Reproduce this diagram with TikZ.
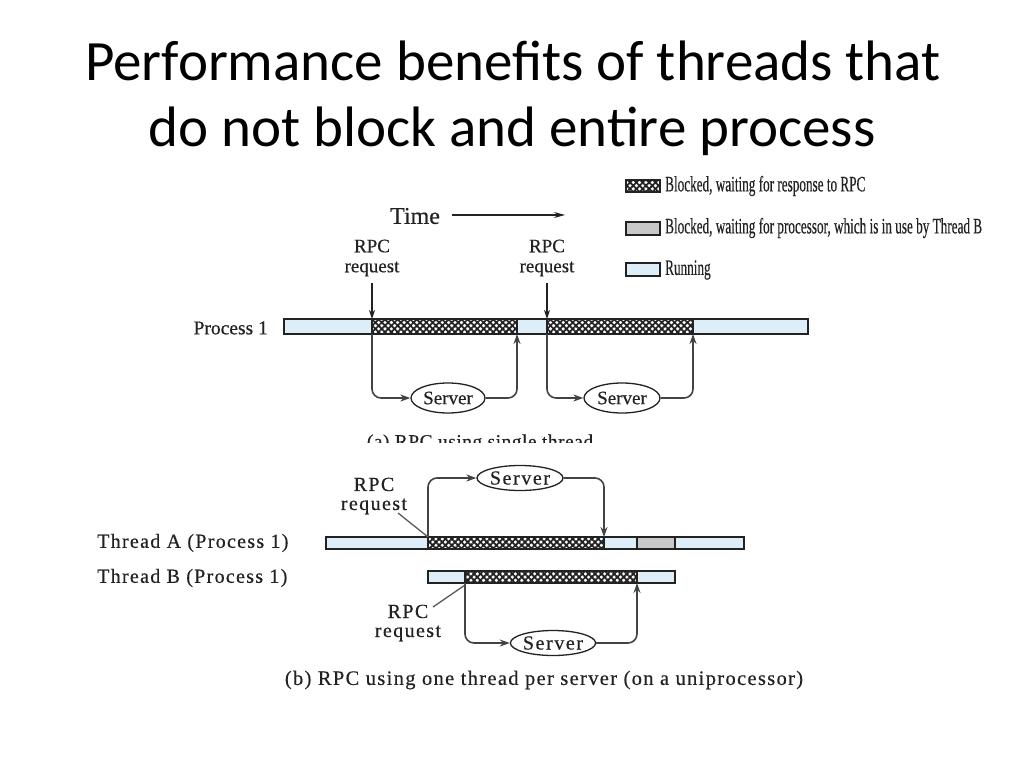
\documentclass[tikz,border=0pt]{standalone}
\usepackage{fontspec}
\setmainfont{Liberation Serif}
\newfontfamily\dfont[FakeBold=0.4]{Liberation Serif}
\newfontfamily\titlefont{Carlito}
\usetikzlibrary{patterns.meta,arrows.meta,shapes.geometric}
\definecolor{runblue}{HTML}{DDEEF8}
\definecolor{waitgray}{HTML}{C8C8C8}
\definecolor{ink}{HTML}{222222}
\tikzset{
  hatchfill/.style={pattern={Lines[angle=45,distance=4.5pt,line width=1.8pt]},pattern color=ink},
  hatchfill2/.style={pattern={Lines[angle=-45,distance=4.5pt,line width=1.8pt]},pattern color=ink},
  seg/.style={draw=ink,line width=1.5pt},
  conn/.style={draw=ink!85,line width=1.6pt,rounded corners=9pt,-{Stealth[length=10pt,width=7pt]}},
  srva/.style={ellipse,draw=ink,line width=1.3pt,fill=white,inner sep=0pt,text=ink,font=\dfont\fontsize{19}{19}\selectfont},
  srvb/.style={ellipse,draw=ink,line width=1.3pt,fill=white,inner sep=0pt,text=ink,font=\dfont\fontsize{20}{20}\selectfont\addfontfeature{LetterSpace=8}},
  lbl/.style={text=ink,font=\dfont\fontsize{19}{20}\selectfont,align=center},
  lblb/.style={text=ink,font=\dfont\fontsize{20}{19}\selectfont\addfontfeature{LetterSpace=7},align=center},
  leg/.style={text=ink,anchor=west,inner sep=0pt,font=\dfont\fontsize{22}{22}\selectfont},
  ptr/.style={draw=ink!75,line width=1.3pt},
  tlbl/.style={text=ink,font=\dfont\fontsize{20}{20}\selectfont\addfontfeature{LetterSpace=6.5},anchor=west,inner sep=0pt},
  ttl/.style={font=\titlefont\fontsize{57}{57}\selectfont,anchor=base,inner sep=0pt},
}
\newcommand{\hatchrect}[2]{\fill[white] #1 rectangle #2; \fill[hatchfill] #1 rectangle #2; \fill[hatchfill2] #1 rectangle #2; \draw[seg] #1 rectangle #2;}
\begin{document}
\begin{tikzpicture}[x=1pt,y=-1pt]
\useasboundingbox (0,0) rectangle (1024,768);
\fill[white] (0,0) rectangle (1024,768);
% title
\node[ttl] (title1) at (513,80) {Performance benefits of threads that};
\node[ttl] (title2) at (512,146) {do not block and entire process};
% legend
\hatchrect{(626,180)}{(660,192)}
\draw[seg,fill=waitgray] (626,222) rectangle (660,235);
\draw[seg,fill=runblue] (626,263) rectangle (660,276);
\node[leg] (lg1) at (665,186) {\scalebox{0.6}[1]{Blocked, waiting for response to RPC}};
\node[leg] (lg2) at (665,228) {\scalebox{0.6}[1]{Blocked, waiting for processor, which is in use by Thread B}};
\node[leg] (lg3) at (665,270) {\scalebox{0.6}[1]{Running}};
% ---------- (a)
\node[text=ink,font=\dfont\fontsize{24}{24}\selectfont] (time) at (415,216) {Time};
\coordinate (ta) at (452,215);
\coordinate (tb) at (565,215);
\draw[ink,line width=1.3pt,-{Stealth[length=11pt,width=6pt]}] (ta) -- (tb);
\node[lbl] (rq1) at (372,258) {RPC\\request};
\node[lbl] (rq2) at (547,258) {RPC\\request};
\node[text=ink,font=\dfont\fontsize{19.5}{19}\selectfont,anchor=east,inner sep=0pt] (p1) at (268,328) {Process 1};
\draw[seg,fill=runblue] (284,319) rectangle (372,334);
\hatchrect{(372,319)}{(517,334)}
\draw[seg,fill=runblue] (517,319) rectangle (547,334);
\hatchrect{(547,319)}{(693,334)}
\draw[seg,fill=runblue] (693,319) rectangle (808,334);
\coordinate (a1t) at (372,319);
\coordinate (a1b) at (372,334);
\coordinate (a1r) at (517,334);
\coordinate (a2t) at (547,319);
\coordinate (a2b) at (547,334);
\coordinate (a2r) at (693,334);
\node[srva,minimum width=74pt,minimum height=30pt] (s1) at (448,398) {Server};
\node[srva,minimum width=76pt,minimum height=30pt] (s2) at (622,398) {Server};
\draw[ink,line width=1.4pt,-{Stealth[length=9pt,width=6pt]}] (rq1.south) ++(0,3) -- (a1t);
\draw[ink,line width=1.4pt,-{Stealth[length=9pt,width=6pt]}] (rq2.south) ++(0,3) -- (a2t);
\draw[conn] (a1b) |- (s1.west);
\draw[conn] (s1.east) -| (a1r);
\draw[conn] (a2b) |- (s2.west);
\draw[conn] (s2.east) -| (a2r);
\begin{scope}
\clip (200,426) rectangle (700,442);
\node[text=ink,font=\dfont\fontsize{19.5}{19}\selectfont\addfontfeature{LetterSpace=2.5},anchor=base] (capa) at (480,448) {(a) RPC using single thread};
\end{scope}
% ---------- (b)
\node[lblb] (rqb1) at (374,496) {RPC\\request};
\node[lblb] (rqb2) at (408,623) {RPC\\request};
\node[tlbl] (tA) at (97,543) {Thread A (Process 1)};
\node[tlbl] (tB) at (97,578) {Thread B (Process 1)};
\draw[seg,fill=runblue] (326,537) rectangle (428,549);
\hatchrect{(428,537)}{(604,549)}
\draw[seg,fill=runblue] (604,537) rectangle (637,549);
\draw[seg,fill=waitgray] (637,537) rectangle (675,549);
\draw[seg,fill=runblue] (675,537) rectangle (744,549);
\draw[seg,fill=runblue] (428,571) rectangle (465,583);
\hatchrect{(465,571)}{(637,583)}
\draw[seg,fill=runblue] (637,571) rectangle (675,583);
\coordinate (bAt) at (428,537);
\coordinate (bAr) at (604,537);
\coordinate (bBb) at (465,583);
\coordinate (bBr) at (637,583);
\coordinate (pA) at (398,513);
\coordinate (pB) at (433,607);
\node[srvb,minimum width=86pt,minimum height=25pt] (s3) at (520,478) {Server};
\node[srvb,minimum width=84pt,minimum height=25pt] (s4) at (553,643) {Server};
\draw[conn] (bAt) |- (s3.west);
\draw[conn] (s3.east) -| (bAr);
\draw[conn] (bBb) |- (s4.west);
\draw[conn] (s4.east) -| (bBr);
\draw[ptr] (pA) -- (bAt);
\draw[ptr] (pB) -- (465,585);
\node[text=ink,font=\dfont\fontsize{20.5}{20}\selectfont\addfontfeature{LetterSpace=6.5}] (capb) at (544,680) {(b) RPC using one thread per server (on a uniprocessor)};
\end{tikzpicture}
\end{document}
